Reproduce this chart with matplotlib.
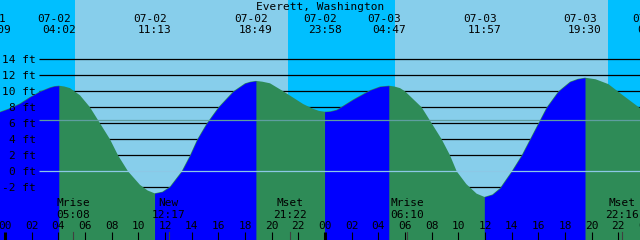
import matplotlib
matplotlib.use('Agg')
import matplotlib.pyplot as plt
import matplotlib.transforms as mtransforms

# tide extremes shown in the header (day of July, date label, clock time)
tide_days = [1, 2, 2, 2, 2, 3, 3, 3, 4]
tide_dates = ['07-01', '07-02', '07-02', '07-02', '07-02', '07-03', '07-03', '07-03', '07-04']
tide_clock = ['23:09', '04:02', '11:13', '18:49', '23:58', '04:47', '11:57', '19:30', '00:40']

# tide curve: hours since 07-02 00:00, height in ft
curve_hours = [-0.85, -0.375, 0.375, 1.125, 1.875, 2.625, 3.375, 3.7, 4.033, 4.45,
               4.875, 5.625, 6.375, 7.125, 7.875, 8.475, 9.225, 10.125, 10.7, 11.217,
               11.8, 12.375, 13.25, 13.875, 14.42, 15.13, 16.0, 17.12, 18.0, 18.4,
               18.817, 19.3, 19.875, 20.87, 21.62, 22.37, 23.12, 23.55, 23.967, 24.4,
               24.875, 26.125, 27.375, 28.125, 28.783, 29.2, 29.625, 30.0, 31.25, 32.0,
               32.75, 33.375, 33.875, 34.6, 35.375, 35.95, 36.55, 37.125, 38.0, 38.75,
               39.375, 40.0, 40.625, 41.5, 42.375, 42.95, 43.5, 44.3, 45.25, 46.5,
               47.625, 48.67]
curve_ft = [7.3, 7.45, 7.9, 8.5, 9.3, 10.0, 10.5, 10.65, 10.7, 10.6,
            10.4, 9.5, 8.0, 6.0, 4.0, 2.0, 0.0, -1.7, -2.4, -2.75,
            -2.55, -1.9, 0.0, 2.0, 4.0, 6.0, 8.0, 10.0, 11.0, 11.2,
            11.3, 11.2, 11.0, 10.0, 9.2, 8.4, 7.8, 7.55, 7.45, 7.5,
            7.7, 9.0, 10.15, 10.6, 10.7, 10.6, 10.4, 10.0, 8.0, 6.0,
            4.0, 2.0, 0.0, -1.6, -2.8, -3.2, -2.9, -2.1, 0.0, 2.0,
            4.0, 6.0, 8.0, 10.0, 11.2, 11.55, 11.7, 11.5, 10.9, 9.3,
            7.9, 7.3]

# sun and moon
sunrise = ['05:15', '05:15']
sunset = ['21:13', '21:13']
sun_days = [2, 3]
moon_names = ['Mrise', 'New', 'Mset', 'Mrise', 'Mset']
moon_clock = ['05:08', '12:17', '21:22', '06:10', '22:16']
moon_days = [2, 2, 2, 3, 3]

grid_ft = [-2, 0, 2, 4, 6, 8, 10, 12, 14]
msl_ft = 6.36
title = 'Everett, Washington'


def hrs(day, hhmm):
    h, m = hhmm.split(':')
    return (day - 2) * 24 + int(h) + int(m) / 60


DAY = '#87CEEB'
NIGHT = '#00BFFF'
FLOOD = '#0000FF'
EBB = '#2E8B57'
FONT = dict(family='DejaVu Sans Mono', size=8, color='black')

fig = plt.figure(figsize=(6.4, 2.4), dpi=100)
ax = fig.add_axes([0, 0, 1, 1])
x0, x1 = -0.375, 47.625
y0, y1 = -8.5875, 21.4125
ax.set_xlim(x0, x1)
ax.set_ylim(y0, y1)
ax.axis('off')
bt = mtransforms.blended_transform_factory(ax.transData, ax.transAxes)

# night / day background
ax.axvspan(x0 - 1, x1 + 1, color=NIGHT, zorder=0)
for d, r, s in zip(sun_days, sunrise, sunset):
    ax.axvspan(hrs(d, r), hrs(d, s), color=DAY, lw=0, zorder=0)

# grid lines behind the water
ax.hlines([g for g in grid_ft if g != 0], 2.55, x1 + 1, color='black', lw=0.9, zorder=1)

# water: ebb everywhere, flood over rising stretches
ax.fill_between(curve_hours, curve_ft, y0 - 1, color=EBB, lw=0, zorder=2)
i = 0
n = len(curve_hours)
while i < n - 1:
    if curve_ft[i + 1] > curve_ft[i]:
        j = i
        while j < n - 1 and curve_ft[j + 1] > curve_ft[j]:
            j += 1
        ax.fill_between(curve_hours[i:j + 1], curve_ft[i:j + 1], y0 - 1,
                        color=FLOOD, lw=0, zorder=2.5)
        i = j
    else:
        i += 1

# datum and mean sea level
ax.hlines(0, 2.55, x1 + 1, color='#8CC8E6', lw=0.9, zorder=3)
ax.hlines(msl_ft, 2.55, x1 + 1, color='#5F9EA0', lw=0.9, zorder=3)

# level labels
for g in grid_ft:
    ax.text(2.3, g - 0.46, f'{g} ft', ha='right', va='baseline', zorder=5, **FONT)

# header
ax.text(0.5, 0.9604, title, transform=ax.transAxes, ha='center', va='baseline', **FONT)
for d, lab, c in zip(tide_days, tide_dates, tide_clock):
    t = hrs(d, c)
    ax.text(t - 0.34, 0.9096, lab, transform=bt, ha='center', va='baseline', **FONT)
    ax.text(t, 0.861, c, transform=bt, ha='center', va='baseline', **FONT)

# moon events
for d, name, c in zip(moon_days, moon_names, moon_clock):
    t = hrs(d, c)
    ax.text(t, 0.1417, name, transform=bt, ha='center', va='baseline', zorder=5, **FONT)
    ax.text(t, 0.0929, c, transform=bt, ha='center', va='baseline', zorder=5, **FONT)
    ax.plot([t, t], [0, 8 / 240], transform=bt, color='#404040', lw=0.8, zorder=5)

# hour axis
for h in range(0, 50, 2):
    ax.text(h, 0.0446, f'{h % 24:02d}', transform=bt, ha='center', va='baseline',
            zorder=5, **FONT)
    lw = 2.2 if h % 24 == 0 else 0.8
    ax.plot([h, h], [0, 8 / 240], transform=bt, color='black', lw=lw, zorder=5,
            solid_capstyle='butt')

fig.savefig('out.png', dpi=100)
